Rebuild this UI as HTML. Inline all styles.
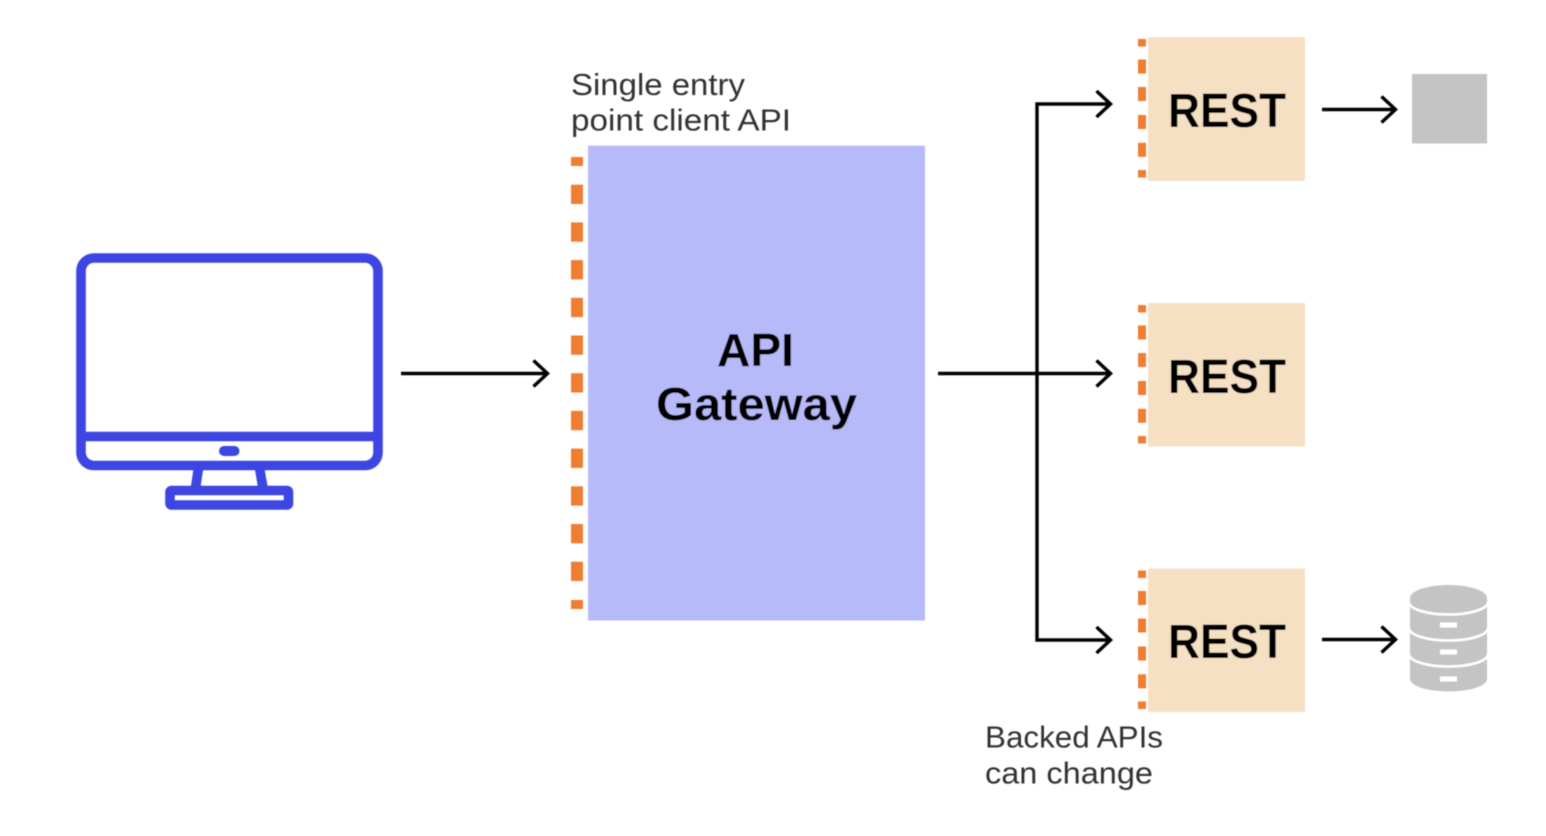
<!DOCTYPE html>
<html lang="en">
<head>
<meta charset="utf-8">
<title>API Gateway diagram</title>
<style>
html,body{margin:0;padding:0;background:#fff;width:1546px;height:836px;overflow:hidden}
svg{display:block}
text{font-family:"Liberation Sans",sans-serif}
.b{font-weight:bold;font-size:46px;fill:#050505}
.r{font-weight:bold;font-size:48px;fill:#050505}
.l{font-size:31px;fill:#333}
.a{fill:none;stroke:#000;stroke-width:3.4;stroke-linecap:butt;stroke-linejoin:miter}
</style>
</head>
<body>
<svg width="1546" height="836" viewBox="0 0 1546 836" xmlns="http://www.w3.org/2000/svg">
<defs>
<filter id="s" x="-2%" y="-2%" width="104%" height="104%"><feGaussianBlur stdDeviation="0.55"/></filter>
<g id="d" fill="#ef7d32">
<rect x="1138" y="39" width="8" height="7.5"/>
<rect x="1138" y="59.500" width="8" height="14"/>
<rect x="1138" y="87" width="8" height="14"/>
<rect x="1138" y="115" width="8" height="14"/>
<rect x="1138" y="142.800" width="8" height="14"/>
<rect x="1138" y="170" width="8" height="7.5"/>
</g>
</defs>
<g filter="url(#s)">
<!-- monitor -->
<g fill="none" stroke="#3c44e2" stroke-width="9.6">
<rect x="81" y="258" width="297" height="207.500" rx="13"/>
<path d="M81 436.500H378"/>
<path d="M198.500 468L195.500 488M259.500 468L263 488"/>
<rect x="170" y="490.500" width="118.500" height="14.500" rx="1.500"/>
</g>
<rect x="219" y="446" width="20.500" height="10" rx="5" fill="#3c44e2"/>

<!-- gateway -->
<rect x="588" y="145.700" width="337" height="474.800" fill="#b6baf9"/>
<g fill="#ef7d32">
<rect x="571" y="157" width="12" height="9"/>
<rect x="571" y="184.700" width="12" height="19.300"/>
<rect x="571" y="222.400" width="12" height="19.300"/>
<rect x="571" y="260.100" width="12" height="19.300"/>
<rect x="571" y="297.800" width="12" height="19.300"/>
<rect x="571" y="335.500" width="12" height="19.300"/>
<rect x="571" y="373.200" width="12" height="19.300"/>
<rect x="571" y="410.900" width="12" height="19.300"/>
<rect x="571" y="448.600" width="12" height="19.300"/>
<rect x="571" y="486.300" width="12" height="19.300"/>
<rect x="571" y="524" width="12" height="19.300"/>
<rect x="571" y="561.700" width="12" height="19.300"/>
<rect x="571" y="600" width="12" height="9"/>
</g>
<text class="b" x="717" y="366" textLength="77" lengthAdjust="spacingAndGlyphs">API</text>
<text class="b" x="656" y="420" textLength="201" lengthAdjust="spacingAndGlyphs">Gateway</text>
<text class="l" x="571" y="95" textLength="174" lengthAdjust="spacingAndGlyphs">Single entry</text>
<text class="l" x="571" y="130.500" textLength="220" lengthAdjust="spacingAndGlyphs">point client API</text>

<!-- REST boxes -->
<rect x="1148" y="37" width="157" height="144" fill="#f6e0c3"/>
<rect x="1148" y="303" width="157" height="143.500" fill="#f6e0c3"/>
<rect x="1148" y="568.500" width="157" height="143.500" fill="#f6e0c3"/>
<use href="#d"/>
<use href="#d" y="266"/>
<use href="#d" y="531.500"/>
<text class="r" x="1168" y="127" textLength="118" lengthAdjust="spacingAndGlyphs">REST</text>
<text class="r" x="1168" y="393" textLength="118" lengthAdjust="spacingAndGlyphs">REST</text>
<text class="r" x="1168" y="658" textLength="118" lengthAdjust="spacingAndGlyphs">REST</text>
<text class="l" x="985" y="747.500" textLength="178" lengthAdjust="spacingAndGlyphs">Backed APIs</text>
<text class="l" x="985" y="783.500" textLength="168" lengthAdjust="spacingAndGlyphs">can change</text>

<!-- arrows -->
<path class="a" d="M401 373.500H547.500M533.500 360.500L547.500 373.500L533.500 386.500"/>
<path class="a" d="M938 373.500H1110.500M1096.500 360.500L1110.500 373.500L1096.500 386.500"/>
<path class="a" d="M1110.500 104H1037V640H1110.500M1096.500 91L1110.500 104L1096.500 117M1096.500 627L1110.500 640L1096.500 653"/>
<path class="a" d="M1322 109.500H1395.500M1381.500 96.500L1395.500 109.500L1381.500 122.500"/>
<path class="a" d="M1322 639.500H1395.500M1381.500 626.500L1395.500 639.500L1381.500 652.500"/>

<!-- gray targets -->
<rect x="1412" y="74" width="75" height="69.500" fill="#c4c4c4"/>
<path d="M1410 598A38.500 13 0 0 1 1487 598V679A38.500 12.500 0 0 1 1410 679Z" fill="#c4c4c4"/>
<g fill="none" stroke="#fff" stroke-width="2.600">
<path d="M1409 602A39.500 12.500 0 0 0 1488 602"/>
<path d="M1409 628A39.500 12.500 0 0 0 1488 628"/>
<path d="M1409 654A39.500 12.500 0 0 0 1488 654"/>
</g>
<g fill="#fff">
<rect x="1440" y="622.500" width="17" height="5"/>
<rect x="1440" y="649.500" width="17" height="5"/>
<rect x="1440" y="676.500" width="17" height="5"/>
</g>
</g>
</svg>
</body>
</html>
